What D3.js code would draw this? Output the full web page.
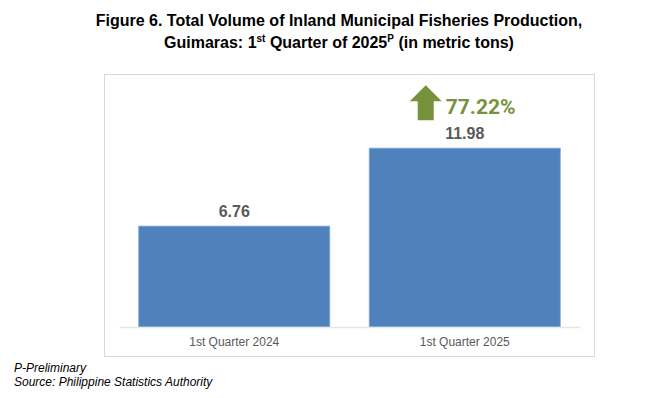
<!DOCTYPE html>
<html>
<head>
<meta charset="utf-8">
<script src="https://cdn.jsdelivr.net/npm/d3@7"></script>
<style>
  body { margin: 0; background: #fff; }
  svg { display: block; font-family: "Liberation Sans", Arial, sans-serif; }
</style>
</head>
<body>
<div class="chart"></div>
<script>
const categories = ["1st Quarter 2024", "1st Quarter 2025"];
const volumes = [6.76, 11.98];
const growth = "77.22%";

const W = 668, H = 398;
const svg = d3.select(".chart").append("svg").attr("width", W).attr("height", H);

// title
const title = svg.append("text")
  .attr("text-anchor", "middle")
  .attr("font-weight", "bold")
  .attr("font-size", 16)
  .attr("fill", "#000");
title.append("tspan").attr("x", 339).attr("y", 26)
  .text("Figure 6. Total Volume of Inland Municipal Fisheries Production,");
const t2 = title.append("tspan").attr("x", 339).attr("y", 48);
t2.append("tspan").text("Guimaras: 1");
t2.append("tspan").attr("font-size", 10).attr("dy", -6).text("st");
t2.append("tspan").attr("dy", 6).text(" Quarter of 2025");
t2.append("tspan").attr("font-size", 10).attr("dy", -6).text("P");
t2.append("tspan").attr("dy", 6).text(" (in metric tons)");

// chart frame
svg.append("rect")
  .attr("x", 104.5).attr("y", 74.5)
  .attr("width", 490).attr("height", 282)
  .attr("fill", "#fff")
  .attr("stroke", "#d9d9d9");

const x = d3.scaleBand()
  .domain(categories)
  .range([119, 580])
  .paddingInner(0.171)
  .paddingOuter(0.0855);

const y = d3.scaleLinear().domain([0, 14]).range([327, 118]);

// bars
svg.selectAll(".bar")
  .data(volumes)
  .enter()
  .append("rect")
  .attr("class", "bar")
  .attr("x", (d, i) => x(categories[i]))
  .attr("y", d => y(d))
  .attr("width", x.bandwidth())
  .attr("height", d => y(0) - y(d))
  .attr("fill", "#4f81bd")
  .attr("stroke", "#8eaadb")
  .attr("stroke-width", 0.8);

// axis
const axis = svg.append("g")
  .attr("transform", "translate(0," + y(0) + ")")
  .call(d3.axisBottom(x).tickSize(0).tickPadding(10));
axis.select(".domain").attr("stroke", "#e6e6e6").attr("stroke-width", 1.5);
axis.selectAll("text")
  .attr("font-family", "Liberation Sans, Arial, sans-serif")
  .attr("font-size", 12)
  .attr("fill", "#595959");

// value labels
svg.selectAll(".val")
  .data(volumes)
  .enter()
  .append("text")
  .attr("class", "val")
  .attr("x", (d, i) => x(categories[i]) + x.bandwidth() / 2)
  .attr("y", d => y(d) - 9)
  .attr("text-anchor", "middle")
  .attr("font-weight", "bold")
  .attr("font-size", 16)
  .attr("fill", "#595959")
  .text(d => d.toFixed(2));

// growth arrow and label
const ax = x(categories[1]) + x.bandwidth() / 2 - 39;
const ay = y(volumes[1]) - 63;
svg.append("path")
  .attr("d", d3.line()([
    [ax, ay], [ax + 16, ay + 16], [ax + 8, ay + 16], [ax + 8, ay + 35],
    [ax - 8, ay + 35], [ax - 8, ay + 16], [ax - 16, ay + 16]
  ]) + "Z")
  .attr("fill", "#76923c");
svg.append("text")
  .attr("x", ax + 20)
  .attr("y", ay + 29)
  .attr("font-family", "Roboto, sans-serif")
  .attr("font-weight", "bold")
  .attr("font-size", 21)
  .attr("fill", "#76923c")
  .text(growth);

// footnotes
const foot = svg.append("text")
  .attr("font-style", "italic")
  .attr("font-size", 12)
  .attr("fill", "#000");
foot.append("tspan").attr("x", 14).attr("y", 372).text("P-Preliminary");
foot.append("tspan").attr("x", 14).attr("y", 386).text("Source: Philippine Statistics Authority");
</script>
</body>
</html>
